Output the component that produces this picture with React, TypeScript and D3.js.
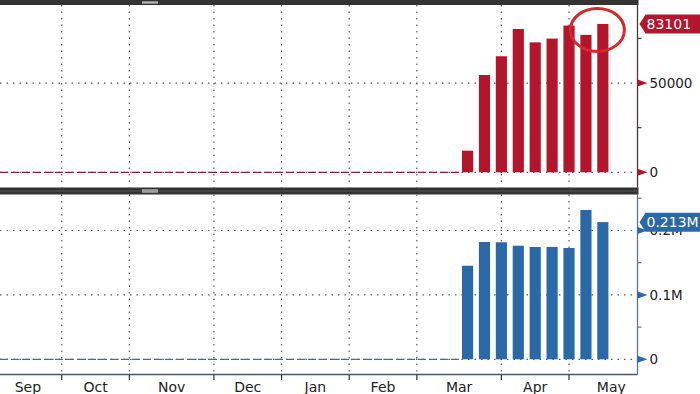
import React from "react";
import * as d3 from "d3";

// ---- data ----
const monthLabels = ["Sep", "Oct", "Nov", "Dec", "Jan", "Feb", "Mar", "Apr", "May"];
// week index at which each month starts (last entry = start of June)
const monthStartWeek = [-4, 0, 4, 9, 13, 17, 21, 26, 30, 35];
const barWeeks = [24, 25, 26, 27, 28, 29, 30, 31, 32];
const topValues = [12100, 54500, 65000, 80300, 72800, 74900, 82200, 77000, 83101];
const bottomValues = [145300, 182100, 181700, 176400, 174400, 174400, 172800, 231800, 213000];
const topTicks = [0, 50000];
const topMinorTicks = [25000, 75000];
const bottomTicks = [0, 100000, 200000];
const bottomMinorTicks = [50000, 150000, 250000];
const topLastLabel = "83101";
const bottomLastLabel = "0.213M";

const W = 700;
const H = 394;
const FONT = "'DejaVu Sans', Tahoma, sans-serif";
const RED = "#b3152d";
const BLUE = "#2a68a8";
const GRID = "#5a5a5a";

export default function App() {
  const axisX = 637.5;
  const x = d3.scaleLinear().domain([-3.65, 34.05]).range([0, axisX]);
  const step = x(1) - x(0);
  const bw = step * 0.66;

  const topPanel = { y0: 5, y1: 187.5 };
  const botPanel = { y0: 194.5, y1: 374.5 };

  const yTop = d3.scaleLinear().domain([-8800, 93165]).range([188, 6]);
  const yBot = d3.scaleLinear().domain([-22826, 256677]).range([374, 194]);

  const fmtBot = (v: number) => (v === 0 ? "0" : `${d3.format(".1f")(v / 1e6)}M`);

  const gridX = monthStartWeek.slice(1, -1).map((w) => x(w));

  const panel = (
    key: string,
    p: { y0: number; y1: number },
    y: d3.ScaleLinear<number, number>,
    values: number[],
    color: string,
    dashColor: string,
    axisColor: string,
    ticks: number[],
    minor: number[],
    fmt: (v: number) => string,
    lastLabel: string,
    lastW: number
  ) => {
    const lastV = values[values.length - 1];
    const ly = y(lastV);
    return (
      <g key={key}>
        {gridX.map((gx, i) => (
          <line key={"vg" + i} x1={gx} x2={gx} y1={p.y0} y2={p.y1} stroke={GRID} strokeWidth={1.2} strokeDasharray="1.5,5" />
        ))}
        {ticks.map((t, i) => (
          <line key={"hg" + i} x1={0} x2={axisX} y1={y(t)} y2={y(t)} stroke={GRID} strokeWidth={1.2} strokeDasharray="1.5,5" />
        ))}
        <line x1={0} x2={x(barWeeks[0]) - step / 2} y1={y(0)} y2={y(0)} stroke={dashColor} strokeWidth={1.2} strokeDasharray="8,3" />
        {values.map((v, i) => (
          <rect key={"b" + i} x={x(barWeeks[i]) - bw / 2} y={y(v)} width={bw} height={y(0) - y(v)} fill={color} />
        ))}
        <line x1={axisX} x2={axisX} y1={p.y0} y2={p.y1} stroke={axisColor} strokeWidth={1.3} />
        {minor.map((t, i) => (
          <line key={"mt" + i} x1={axisX} x2={axisX + 4} y1={y(t)} y2={y(t)} stroke={axisColor} strokeWidth={1.2} />
        ))}
        {ticks.map((t, i) => (
          <g key={"t" + i}>
            <path d={`M${axisX},${y(t) - 3.5}L${axisX + 10},${y(t)}L${axisX},${y(t) + 3.5}Z`} fill={color} />
            <text x={axisX + 12} y={y(t)} dy="0.36em" fontFamily={FONT} fontSize={13.5} fill="#222">
              {fmt(t)}
            </text>
          </g>
        ))}
        <path
          d={`M${axisX + 2},${ly}L${axisX + 8},${ly - 9.5}H${axisX + 2 + lastW}V${ly + 9.5}H${axisX + 8}Z`}
          fill={color}
        />
        <text x={axisX + 9} y={ly} dy="0.36em" fontFamily={FONT} fontSize={14} fill="#fff">
          {lastLabel}
        </text>
      </g>
    );
  };

  return (
    <svg width={W} height={H} style={{ position: "absolute", left: 0, top: 0, background: "#fff" }}>
      <rect x={0} y={0} width={W} height={H} fill="#fff" />
      {panel("top", topPanel, yTop, topValues, RED, "#8c2233", "#4a3a3c", topTicks, topMinorTicks, (v) => String(v), topLastLabel, 62)}
      {panel("bot", botPanel, yBot, bottomValues, BLUE, "#4d6c8c", "#5b7896", bottomTicks, bottomMinorTicks, fmtBot, bottomLastLabel, 62)}

      <rect x={0} y={0} width={axisX + 1} height={5} fill="#333" />
      <rect x={0} y={187.5} width={axisX + 1} height={7} fill="#333" />
      <line x1={0} x2={axisX} y1={191} y2={191} stroke="#555" strokeWidth={1} />
      <rect x={142} y={1} width={16} height={3} fill="#8a8a8a" />
      <line x1={142} x2={158} y1={2.5} y2={2.5} stroke="#bbb" strokeWidth={0.8} />
      <rect x={142} y={189} width={16} height={4} fill="#8a8a8a" />
      <line x1={142} x2={158} y1={191} y2={191} stroke="#bbb" strokeWidth={0.8} />

      <line x1={0} x2={axisX} y1={374.5} y2={374.5} stroke="#44576b" strokeWidth={1.3} />
      {gridX.map((gx, i) => (
        <line key={"xt" + i} x1={gx} x2={gx} y1={374.5} y2={380} stroke="#333" strokeWidth={1.2} />
      ))}
      {monthLabels.map((m, i) => (
        <text
          key={m}
          x={x((monthStartWeek[i] + monthStartWeek[i + 1]) / 2)}
          y={392}
          textAnchor="middle"
          fontFamily={FONT}
          fontSize={14}
          fill="#222"
        >
          {m}
        </text>
      ))}

      <ellipse
        cx={(x(barWeeks[7]) + x(barWeeks[8])) / 2 + 3}
        cy={yTop(topValues[8]) + 6}
        rx={27}
        ry={21.5}
        fill="none"
        stroke="#d32a2e"
        strokeWidth={3}
      />
    </svg>
  );
}
